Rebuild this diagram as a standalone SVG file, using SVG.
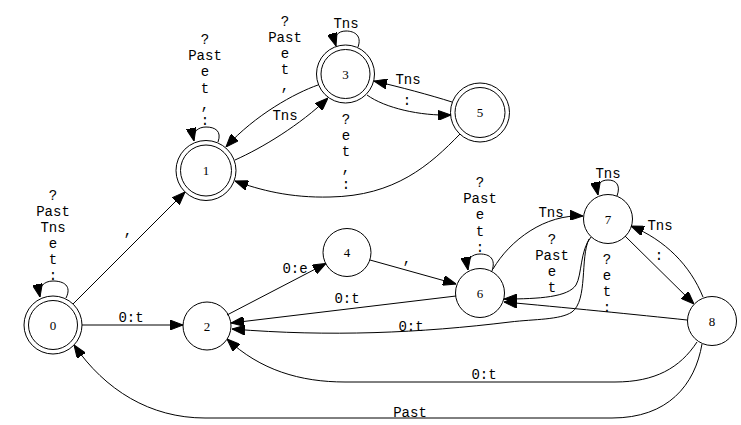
<svg xmlns="http://www.w3.org/2000/svg" width="741" height="425" viewBox="0 0 741 425">
<style>
.n{fill:none;stroke:#000;stroke-width:1}
.nl{font-family:"Liberation Serif",serif;font-size:13px;text-anchor:middle;fill:#000}
.e{fill:none;stroke:#000;stroke-width:1;marker-end:url(#ah)}
.el{font-family:"Liberation Mono",monospace;font-size:14px;text-anchor:middle;fill:#000}
</style>
<defs>
<marker id="ah" viewBox="0 0 13 10" markerWidth="13" markerHeight="10" refX="13" refY="5" orient="auto" markerUnits="userSpaceOnUse">
<path d="M0,0 L13,5 L0,10 z" fill="#000" stroke="#000" stroke-width="1"/>
</marker>
</defs>
<rect width="741" height="425" fill="#fff"/>
<g id="connectors">
<path class="e" d="M 66,298 C 72,286 64,281 53,281 C 44,281 38,287 40,297"/>
<path class="e" d="M 218,142 C 222,131 215,127 206,127 C 198,127 192,132 194,141"/>
<path class="e" d="M 358,47 C 362,36 355,31 346,31 C 338,31 333,36 336,46"/>
<path class="e" d="M 492,271 C 496,259 490,254 480,254 C 472,254 466,259 468,270"/>
<path class="e" d="M 617,196 C 621,185 616,180 608,180 C 600,180 596,185 598,195"/>
<path class="e" d="M 73,304 L 185,192"/>
<path class="e" d="M 82,325 L 183,325"/>
<path class="e" d="M 235,160 C 262,148 300,125 328,98"/>
<path class="e" d="M 318,85 C 295,93 255,115 226,147"/>
<path class="e" d="M 367,95 C 385,108 420,116 451,115"/>
<path class="e" d="M 452,102 C 430,95 400,87 374,81"/>
<path class="e" d="M 460,134 C 430,165 395,196 330,197 C 290,198 260,190 235,181"/>
<path class="e" d="M 227,315 L 326,263.5"/>
<path class="e" d="M 370,260 L 456,284"/>
<path class="e" d="M 456,296 L 231,323"/>
<path class="e" d="M 493,269 C 510,240 545,214 583,216"/>
<path class="e" d="M 591,237 C 580,250 582,275 576,285 C 568,297 540,299 504,299"/>
<path class="e" d="M 589,239 C 580,258 588,300 572,312 C 560,320 535,319 510,322 C 420,333 330,337 232,329"/>
<path class="e" d="M 687,320 C 640,315 560,307 504,302"/>
<path class="e" d="M 625,236 L 694,304"/>
<path class="e" d="M 703,297 C 690,265 665,240 631,226"/>
<path class="e" d="M 697,342 C 680,368 655,382 615,382 L 345,382 C 300,382 260,370 227,339"/>
<path class="e" d="M 702,344 C 695,385 668,418 612,418 L 205,418 C 150,418 105,390 74,345"/>
</g>
<g id="edge-labels">
<text class="el" x="53" y="200">?</text><text class="el" x="53" y="216">Past</text><text class="el" x="53" y="232">Tns</text><text class="el" x="53" y="248">e</text><text class="el" x="53" y="264">t</text><text class="el" x="53" y="280">:</text>
<text class="el" x="128" y="235">,</text>
<text class="el" x="131" y="322">0:t</text>
<text class="el" x="205" y="44">?</text><text class="el" x="205" y="60.2">Past</text><text class="el" x="205" y="76.4">e</text><text class="el" x="205" y="92.6">t</text><text class="el" x="205" y="108.8">,</text><text class="el" x="205" y="125">:</text>
<text class="el" x="285" y="25.5">?</text><text class="el" x="285" y="41.7">Past</text><text class="el" x="285" y="57.9">e</text><text class="el" x="285" y="74.1">t</text><text class="el" x="285" y="90.3">,</text>
<text class="el" x="285" y="120">Tns</text>
<text class="el" x="346" y="28">Tns</text>
<text class="el" x="407" y="105">:</text>
<text class="el" x="408" y="84">Tns</text>
<text class="el" x="346" y="123.5">?</text><text class="el" x="346" y="139.75">e</text><text class="el" x="346" y="156">t</text><text class="el" x="346" y="172.25">,</text><text class="el" x="346" y="188.5">:</text>
<text class="el" x="295" y="273">0:e</text>
<text class="el" x="407" y="263">,</text>
<text class="el" x="347" y="303">0:t</text>
<text class="el" x="480" y="187">?</text><text class="el" x="480" y="203.2">Past</text><text class="el" x="480" y="219.4">e</text><text class="el" x="480" y="235.6">t</text><text class="el" x="480" y="251.8">:</text>
<text class="el" x="551" y="216.5">Tns</text>
<text class="el" x="552" y="243.5">?</text><text class="el" x="552" y="259.5">Past</text><text class="el" x="552" y="275.5">e</text><text class="el" x="552" y="291.5">t</text>
<text class="el" x="608" y="177.5">Tns</text>
<text class="el" x="659" y="259.5">:</text>
<text class="el" x="660" y="229.5">Tns</text>
<text class="el" x="607" y="264">?</text><text class="el" x="607" y="280">e</text><text class="el" x="607" y="296">t</text><text class="el" x="607" y="312">:</text>
<text class="el" x="411" y="330.5">0:t</text>
<text class="el" x="484" y="379">0:t</text>
<text class="el" x="410" y="416.5">Past</text>
</g>
<g id="node0"><circle class="n" cx="53" cy="325" r="29"/><circle class="n" cx="53" cy="325" r="24.5"/><text class="nl" x="53" y="329.5">0</text></g>
<g id="node1"><circle class="n" cx="206" cy="170.5" r="30"/><circle class="n" cx="206" cy="170.5" r="25.5"/><text class="nl" x="206" y="175">1</text></g>
<g id="node2"><circle class="n" cx="207" cy="326" r="24"/><text class="nl" x="207" y="330.5">2</text></g>
<g id="node3"><circle class="n" cx="345.5" cy="74" r="29"/><circle class="n" cx="345.5" cy="74" r="24.5"/><text class="nl" x="345.5" y="78.5">3</text></g>
<g id="node4"><circle class="n" cx="347" cy="252.5" r="24"/><text class="nl" x="347" y="257">4</text></g>
<g id="node5"><circle class="n" cx="480" cy="112.5" r="29.5"/><circle class="n" cx="480" cy="112.5" r="25"/><text class="nl" x="480" y="117">5</text></g>
<g id="node6"><circle class="n" cx="480" cy="293" r="24.5"/><text class="nl" x="480" y="297.5">6</text></g>
<g id="node7"><circle class="n" cx="608" cy="219" r="24.5"/><text class="nl" x="608" y="223.5">7</text></g>
<g id="node8"><circle class="n" cx="712" cy="321" r="24.5"/><text class="nl" x="712" y="325.5">8</text></g>
</svg>
